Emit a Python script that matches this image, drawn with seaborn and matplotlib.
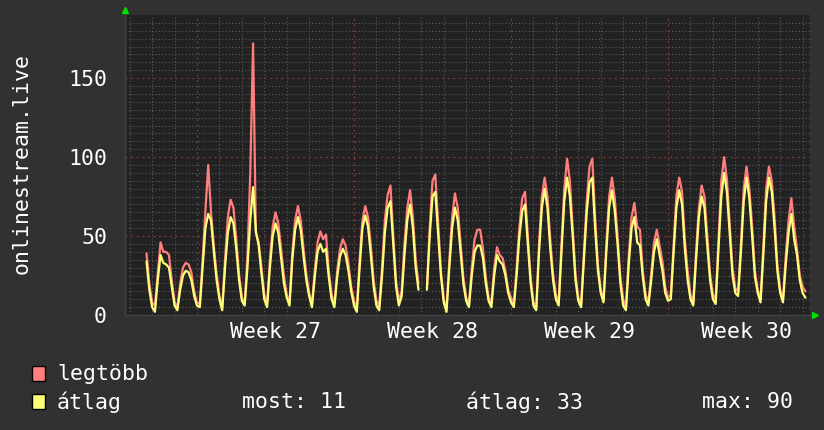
import numpy as np
import pandas as pd
import matplotlib
matplotlib.use("Agg")
import seaborn as sns
from matplotlib import pyplot as plt
from matplotlib.patches import Rectangle
from matplotlib import transforms

# 3-hour samples, first one 2.25 days before the start of week 27
legtobb = [39, 20,
           8, 6, 26, 46, 40, 40, 38, 22,
           8, 5, 20, 30, 33, 32, 27, 15,
           8, 7, 35, 66, 95, 65, 44, 26,
           12, 5, 35, 62, 73, 68, 48, 26,
           11, 7, 38, 90, 172, 52, 46, 30,
           13, 7, 35, 56, 65, 58, 42, 25,
           13, 8, 40, 60, 69, 60, 42, 26,
           14, 7, 28, 46, 53, 48, 51, 28,
           13, 7, 28, 42, 48, 44, 33, 18,
           9, 4, 35, 60, 69, 62, 44, 22,
           9, 6, 30, 60, 76, 82, 50, 22,
           9, 15, 45, 68, 79, 62, 35, 20,
           np.nan, np.nan, 17, 55, 85, 89, 58, 28,
           10, 4, 35, 62, 77, 68, 46, 24,
           11, 7, 30, 48, 54, 54, 42, 24,
           11, 8, 30, 43, 38, 36, 28, 16,
           11, 7, 30, 56, 74, 78, 50, 24,
           8, 5, 45, 75, 87, 75, 48, 26,
           13, 8, 45, 80, 99, 85, 56, 26,
           11, 7, 40, 72, 94, 99, 62, 32,
           16, 10, 45, 75, 87, 74, 50, 24,
           10, 5, 38, 62, 71, 56, 54, 28,
           13, 8, 26, 46, 54, 44, 34, 18,
           11, 13, 45, 76, 87, 78, 48, 28,
           13, 8, 40, 68, 82, 75, 50, 26,
           13, 10, 48, 85, 100, 86, 58, 30,
           17, 15, 45, 80, 94, 80, 56, 28,
           16, 10, 44, 80, 94, 85, 62, 32,
           16, 10, 38, 60, 74, 56, 42, 25,
           18, 15]

atlag = [34, 16,
         5, 2, 22, 38, 33, 32, 30, 18,
         6, 3, 16, 25, 28, 27, 22, 12,
         6, 5, 30, 55, 64, 60, 40, 22,
         10, 3, 30, 52, 62, 58, 42, 22,
         9, 6, 30, 60, 81, 53, 44, 26,
         10, 5, 30, 50, 58, 52, 36, 20,
         11, 6, 35, 54, 62, 54, 37, 22,
         12, 5, 24, 40, 45, 40, 42, 24,
         10, 5, 24, 37, 42, 38, 28, 15,
         6, 2, 30, 55, 63, 56, 38, 18,
         6, 3, 25, 52, 68, 72, 45, 18,
         6, 12, 38, 60, 70, 55, 30, 16,
         np.nan, np.nan, 16, 50, 75, 78, 52, 25,
         8, 2, 30, 55, 68, 60, 40, 20,
         9, 5, 25, 40, 44, 44, 36, 20,
         9, 5, 25, 38, 34, 32, 25, 14,
         8, 5, 25, 50, 66, 70, 45, 20,
         6, 3, 40, 68, 80, 68, 42, 22,
         10, 6, 40, 72, 87, 75, 50, 22,
         9, 5, 35, 65, 84, 87, 55, 28,
         14, 8, 40, 68, 79, 66, 45, 20,
         6, 3, 32, 55, 62, 46, 44, 24,
         10, 6, 22, 40, 48, 38, 28, 14,
         9, 10, 40, 68, 79, 70, 42, 22,
         10, 6, 35, 62, 75, 68, 44, 22,
         10, 7, 42, 75, 90, 78, 52, 25,
         14, 12, 40, 72, 87, 74, 50, 24,
         14, 8, 38, 72, 87, 78, 55, 28,
         14, 8, 32, 52, 64, 48, 38, 22,
         14, 11]

week_labels = ["Week 27", "Week 28", "Week 29", "Week 30"]
y_ticks = [0, 50, 100, 150]
stats = ["most: 11", "átlag: 33", "max: 90"]

bg = "#313131"
plot_bg = "#222222"
red = "#ff7f7f"
yellow = "#ffff77"

t = -2.25 + 0.125 * np.arange(len(legtobb))
df = pd.DataFrame({"t": t, "legtöbb": legtobb, "átlag": atlag})
df["seg"] = df["legtöbb"].isna().cumsum()

sns.set_style("dark", {"axes.facecolor": plot_bg, "figure.facecolor": bg})
plt.rcParams["font.family"] = ["DejaVu Sans Mono"]
fs = 15.5

fig = plt.figure(figsize=(8.24, 4.30), dpi=100)
ax = fig.add_axes([125 / 824, 1 - 315 / 430, 685 / 824, 300 / 430])

sns.lineplot(data=df, x="t", y="legtöbb", units="seg", estimator=None,
             color=red, lw=1.6, ax=ax)
sns.lineplot(data=df, x="t", y="átlag", units="seg", estimator=None,
             color=yellow, lw=1.6, ax=ax)

ax.set_xlim(-3.21, 27.33)
ax.set_ylim(0, 190)
ax.set_xlabel("")
ax.set_ylabel("")

# grid: days / weeks, 5 / 50
ax.set_xticks([0, 7, 14, 21])
ax.set_xticklabels([])
ax.set_xticks(np.arange(-3, 28), minor=True)
ax.set_yticks(y_ticks)
ax.set_yticks(np.arange(0, 190, 5), minor=True)
ax.grid(which="minor", color="#5c5c5c", ls=(0, (1, 2)), lw=0.8)
ax.grid(which="major", color="#7a3a3a", ls=(0, (2, 3)), lw=0.8)
ax.set_axisbelow(True)
ax.tick_params(which="both", length=0)
ax.tick_params(axis="y", pad=13, labelsize=fs, labelcolor="white")
for s in ["top", "right"]:
    ax.spines[s].set_visible(False)
for s in ["left", "bottom"]:
    ax.spines[s].set_color("#444444")
    ax.spines[s].set_linewidth(1)

trans = transforms.blended_transform_factory(ax.transData, ax.transAxes)
for i, lab in enumerate(week_labels):
    ax.text(3.5 + 7 * i, -0.057, lab, transform=trans, ha="center",
            va="center", color="white", fontsize=fs)

# axis arrows
ax.plot([0], [1.017], marker="^", color="#00dd00", ms=5,
        transform=ax.transAxes, clip_on=False)
ax.plot([1.008], [0], marker=">", color="#00dd00", ms=5,
        transform=ax.transAxes, clip_on=False)

fig.text(22 / 824, 1 - 164 / 430, "onlinestream.live", rotation=90,
         ha="center", va="center", color="white", fontsize=fs)

# legend
for y, col, lab in [(374, red, "legtöbb"), (402, yellow, "átlag")]:
    fig.patches.append(Rectangle((32 / 824, 1 - (y + 7) / 430), 13 / 824, 15 / 430,
                                 transform=fig.transFigure, fc=col, ec="black", lw=1))
    fig.text(57 / 824, 1 - y / 430, lab, ha="left", va="center",
             color="white", fontsize=fs)
for x, s in zip([242, 466, 702], stats):
    fig.text(x / 824, 1 - 402 / 430, s, ha="left", va="center",
             color="white", fontsize=fs)

fig.savefig("out.png", dpi=100, facecolor=bg)
